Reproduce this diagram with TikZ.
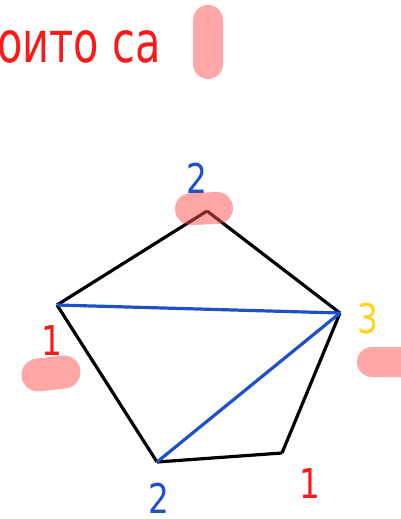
\documentclass[tikz,border=0pt]{standalone}
\usepackage{fontspec}
\newfontfamily\labelfont{DejaVu Sans}
\definecolor{inkred}{RGB}{250,25,25}
\definecolor{inkblue}{RGB}{30,80,200}
\definecolor{inkyellow}{RGB}{255,210,30}
\definecolor{blobpink}{RGB}{255,80,80}

\begin{document}
\begin{tikzpicture}[
        x=1pt, y=-1pt,
        edge/.style={line width=3.2pt, black},
        diag/.style={line width=3.2pt, inkblue},
        num/.style={
            inner sep=0pt,
            font=\labelfont\fontsize{41}{41}\selectfont
        },
        blob/.style={line width=#1, blobpink, line cap=round},
        blob/.default=30pt
    ]
    \useasboundingbox (0,0) rectangle (401,519);

    \coordinate (top) at (207,211);
    \coordinate (left) at (57,305);
    \coordinate (right) at (340,313);
    \coordinate (botleft) at (157,462);
    \coordinate (botright) at (282,453);

    \draw[edge] (top) -- (left);
    \draw[edge] (top) -- (right);
    \draw[edge] (left) -- (botleft);
    \draw[edge] (botleft) -- (botright);
    \draw[edge] (botright) -- (right);

    \draw[diag] (left) -- (right);
    \draw[diag] (botleft) -- (right);

    \node[inner sep=0pt, anchor=base west, text=inkred,
        font=\labelfont\fontsize{57}{57}\selectfont] (title) at (-3,63)
        {\scalebox{0.73}[1]{оито са}};

    \node[num, text=inkblue] (ltop) at (197,178) {\scalebox{0.8}[1]{2}};
    \node[num, text=inkred] (lleft) at (52,341) {\scalebox{0.8}[1]{1}};
    \node[num, text=inkyellow] (lright) at (368,319) {\scalebox{0.8}[1]{3}};
    \node[num, text=inkblue] (lbotleft) at (159,498) {\scalebox{0.8}[1]{2}};
    \node[num, text=inkred] (lbotright) at (310,484) {\scalebox{0.8}[1]{1}};

    % pink marks
    \begin{scope}[transparency group, opacity=0.5]
        \draw[blob] (208,20) -- (208,64);
        \draw[blob=20pt] (211,40) -- (213,60);
        \draw[blob=32pt] (191,209) -- (217,208);
        \draw[blob=33pt] (38,375) -- (64,372);
        \draw[blob] (372,362) -- (412,362);
    \end{scope}
\end{tikzpicture}
\end{document}
